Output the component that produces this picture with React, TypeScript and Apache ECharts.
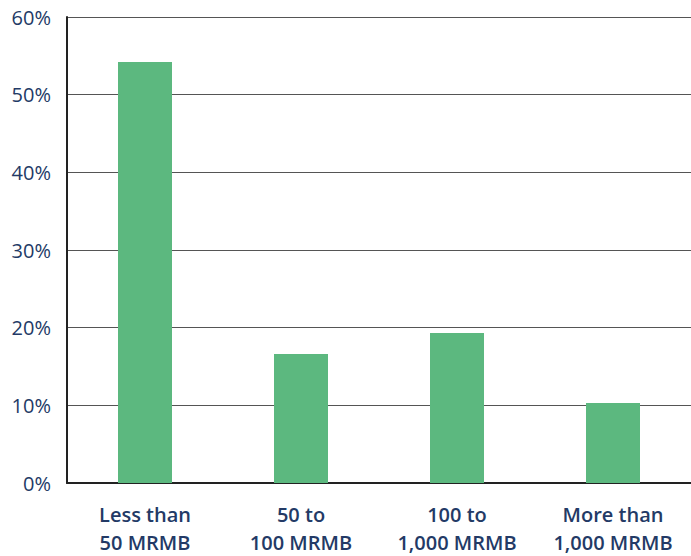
import React, { useEffect, useRef } from "react";
import * as echarts from "echarts";

const categories = [
  "Less than\n50 MRMB",
  "50 to\n100 MRMB",
  "100 to\n1,000 MRMB",
  "More than\n1,000 MRMB",
];
const shares = [54.2, 16.6, 19.3, 10.3];
const yTicks = [0, 10, 20, 30, 40, 50, 60];

const TEXT = "#233a66";
const FONT = "'Open Sans', 'DejaVu Sans', sans-serif";

export default function App() {
  const ref = useRef<HTMLDivElement>(null);
  useEffect(() => {
    document.body.style.margin = "0";
    document.body.style.overflow = "hidden";
    document.documentElement.style.overflow = "hidden";
    const chart = echarts.init(ref.current!, undefined, { renderer: "svg" });
    chart.setOption({
      animation: false,
      backgroundColor: "#ffffff",
      grid: { left: 67, top: 17, width: 638, height: 476, containLabel: false },
      xAxis: {
        type: "category",
        data: categories,
        axisLine: { show: true, lineStyle: { color: "#222", width: 2 } },
        axisTick: { show: false },
        axisLabel: {
          color: TEXT,
          fontFamily: FONT,
          fontSize: 20,
          fontWeight: 600,
          lineHeight: 28,
          margin: 17,
          interval: 0,
        },
      },
      yAxis: {
        type: "value",
        min: yTicks[0],
        max: yTicks[yTicks.length - 1],
        interval: 10,
        axisLine: { show: true, lineStyle: { color: "#222", width: 2 } },
        axisTick: { show: false },
        splitLine: { show: true, lineStyle: { color: "#555", width: 1 } },
        axisLabel: {
          color: TEXT,
          fontFamily: FONT,
          fontSize: 20,
          margin: 16,
          formatter: (v: number) => `${v}%`,
        },
      },
      series: [
        {
          type: "bar",
          data: shares,
          barWidth: 54,
          itemStyle: { color: "#5cb87f" },
        },
      ],
    });
    return () => chart.dispose();
  }, []);
  return (
    <div
      ref={ref}
      style={{ position: "fixed", left: 0, top: 0, width: 691, height: 556 }}
    />
  );
}
